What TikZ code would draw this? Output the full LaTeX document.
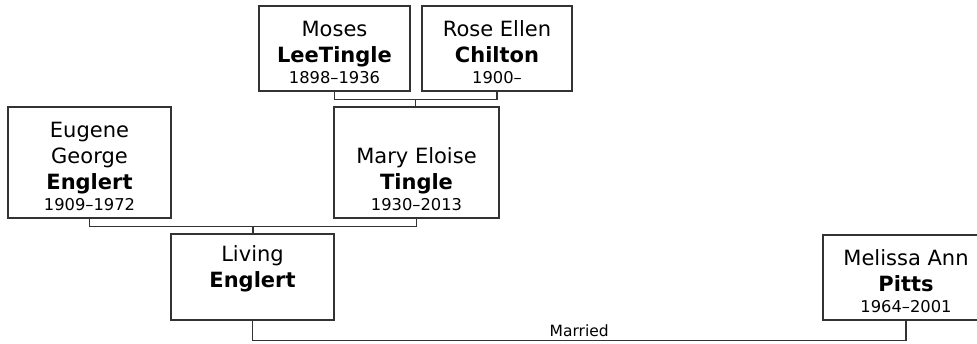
\documentclass[tikz,border=0pt]{standalone}
\usepackage{fontspec}
\setmainfont{DejaVu Sans}
\usepackage{xcolor}
\usetikzlibrary{calc}
\definecolor{box-line}{HTML}{333333}
\newcommand{\namefont}{\fontsize{21}{26}\selectfont}
\newcommand{\datefont}{\fontsize{16.3}{21}\selectfont}
\newcommand{\toprule}{\rule{0pt}{23pt}}
\begin{document}
\begin{tikzpicture}[x=1pt, y=-1pt,
    every node/.style={font=\namefont},
    person/.style={draw=box-line, line width=1.4pt, fill=white, align=center,
      inner sep=0pt},
    link/.style={draw=box-line, line width=1.4pt}]
    \useasboundingbox (0,0) rectangle (977,343);
    \clip (0,0) rectangle (977,343);
    \node[person, minimum width=151pt, minimum height=85pt] (moses) at (334.5, 48.5)
      {\toprule Moses\\\textbf{LeeTingle}\\[-5pt]{\datefont 1898–1936}};
    \node[person, minimum width=150pt, minimum height=85pt] (rose) at (497, 48.5)
      {\toprule Rose Ellen\\\textbf{Chilton}\\[-5pt]{\datefont 1900–}};
    \node[person, minimum width=163pt, minimum height=111pt] (eugene) at (89.5, 162.5)
      {\toprule Eugene\\George\\\textbf{Englert}\\[-5pt]{\datefont 1909–1972}};
    \node[person, minimum width=165pt, minimum height=111pt] (mary) at (416.5, 162.5)
      {\toprule\\Mary Eloise\\\textbf{Tingle}\\[-5pt]{\datefont 1930–2013}};
    \node[person, minimum width=163pt, minimum height=86pt] (living) at (252.5, 277)
      {\toprule Living\\\textbf{Englert}\\[-5pt]{\datefont\strut}};
    \node[person, minimum width=166pt, minimum height=85pt] (melissa) at (906, 277.5)
      {\toprule Melissa Ann\\\textbf{Pitts}\\[-5pt]{\datefont 1964–2001}};
    % parents of Mary
    \coordinate (mosesrose) at ($(moses.south)!0.5!(rose.south) + (0,8)$);
    \draw[link] (moses.south) -- ++(0,8) -| (rose.south);
    \draw[link] (mosesrose) -- (mosesrose |- mary.north);
    % parents of Living
    \coordinate (eugenemary) at ($(eugene.south)!0.5!(mary.south) + (0,8)$);
    \draw[link] (eugene.south) -- ++(0,8) -| (mary.south);
    \draw[link] (eugenemary) -- (eugenemary |- living.north);
    % marriage
    \draw[link] (living.south) -- ++(0,20) -| (melissa.south)
      node[pos=0.25, above=0pt, font=\fontsize{15.5}{17}\selectfont] (married) {Married};
  \end{tikzpicture}
\end{document}
